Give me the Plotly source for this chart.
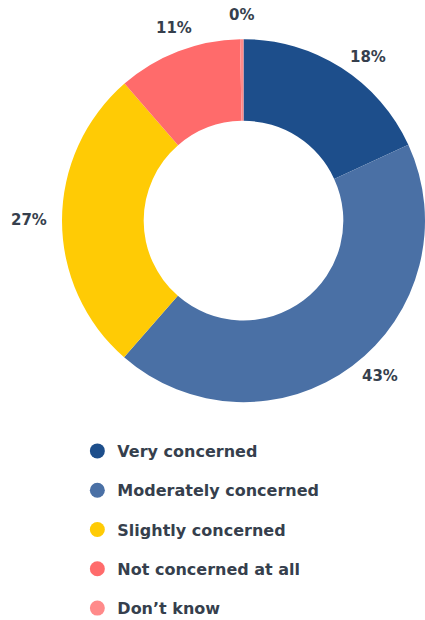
import math
import plotly.graph_objects as go

# Survey response shares (percent)
categories = ["Very concerned", "Moderately concerned", "Slightly concerned",
              "Not concerned at all", "Don’t know"]
shares = [18, 43, 27, 11, 0.3]
colors = ["#1d4e8b", "#4a70a5", "#ffcb05", "#ff6b6b", "#ff8a8a"]

text_color = "#363f4d"
font_family = "'DejaVu Sans', sans-serif"

W, H = 425, 620
dom_x = [0.1459, 1.0]
dom_y = [0.3474, 0.9408]
hole = 0.55

fig = go.Figure()

fig.add_trace(go.Pie(
    labels=categories,
    values=shares,
    marker=dict(colors=colors, line=dict(width=0)),
    hole=hole,
    sort=False,
    direction="clockwise",
    rotation=0,
    textinfo="none",
    showlegend=False,
    domain=dict(x=dom_x, y=dom_y),
    hoverinfo="label+percent",
))

# Percentage labels placed just outside each slice, at the slice's mid-angle
cx = W * (dom_x[0] + dom_x[1]) / 2
cy = H * (1 - (dom_y[0] + dom_y[1]) / 2)
r_pie = min(W * (dom_x[1] - dom_x[0]), H * (dom_y[1] - dom_y[0])) / 2
r_lab = r_pie + 13
total = sum(shares)
cum = 0.0
for v in shares:
    theta = 2 * math.pi * (cum + v / 2) / total
    cum += v
    s, c = math.sin(theta), math.cos(theta)
    px = cx + r_lab * s
    py = cy - r_lab * c
    xanchor = "center" if abs(s) < 0.5 else ("left" if s > 0 else "right")
    yanchor = "middle" if abs(c) < 0.85 else ("bottom" if c > 0 else "top")
    fig.add_annotation(
        x=px / W, y=1 - py / H, xref="paper", yref="paper",
        text=f"{v:.0f}%", showarrow=False,
        xanchor=xanchor, yanchor=yanchor,
        font=dict(family=font_family, size=15, color=text_color, weight="bold"),
    )

# Legend entries drawn as circular markers
for name, col in zip(categories, colors):
    fig.add_trace(go.Scatter(
        x=[None], y=[None], mode="markers", name=name,
        legendgroup=name,
        marker=dict(symbol="circle", size=15, color=col),
    ))

fig.update_layout(
    width=W, height=H,
    margin=dict(l=0, r=0, t=0, b=0, autoexpand=False),
    paper_bgcolor="white", plot_bgcolor="white",
    xaxis=dict(visible=False), yaxis=dict(visible=False),
    legend=dict(
        x=0.182, y=0.300, xanchor="left", yanchor="top",
        font=dict(family=font_family, size=16, color=text_color, weight="bold"),
        tracegroupgap=15.5,
        itemclick=False, itemdoubleclick=False,
    ),
)

fig.write_html("out.html")
